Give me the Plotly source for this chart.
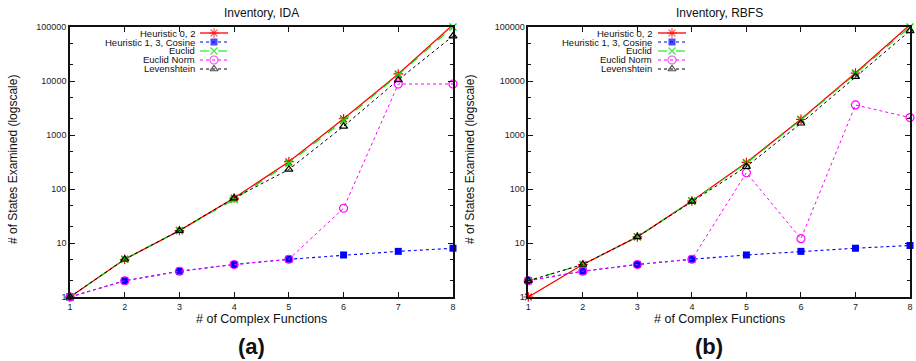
import plotly.graph_objects as go

# ---------------- data ----------------
funcs = [1, 2, 3, 4, 5, 6, 7, 8]

series_names = ["Heuristic 0, 2", "Heuristic 1, 3, Cosine", "Euclid", "Euclid Norm", "Levenshtein"]

ida_h02 = [1, 5, 17, 68, 320, 2000, 13500, 110000]
ida_h13 = [1, 2, 3, 4, 5, 6, 7, 8]
ida_euclid = [1, 5, 17, 64, 300, 1850, 13000, 100000]
ida_enorm = [1, 2, 3, 4, 5, 44, 8800, 8800]
ida_lev = [1, 5, 17, 68, 230, 1450, 10500, 68000]

rbfs_h02 = [1, 4, 13, 60, 310, 1950, 14000, 110000]
rbfs_h13 = [2, 3, 4, 5, 6, 7, 8, 9]
rbfs_euclid = [2, 4, 13, 60, 300, 1900, 13500, 100000]
rbfs_enorm = [2, 3, 4, 5, 200, 12, 3600, 2100]
rbfs_lev = [2, 4, 13, 59, 260, 1650, 12000, 85000]

y_tickvals = [1, 10, 100, 1000, 10000, 100000]
y_ticktext = ["1", "10", "100", "1000", "10000", "100000"]
x_tickvals = funcs

# ---------------- styles ----------------
W, H = 916, 361
FONT = "Liberation Sans, Arial, Helvetica, sans-serif"

styles = [
    dict(color="#ff0000", dash="solid", width=1.3, symbol="asterisk-open", size=8, mlw=1.2),
    dict(color="#0000ff", dash="dot", width=1.1, symbol="square", size=7, mlw=0),
    dict(color="#00e000", dash="dash", width=1.1, symbol="x-thin-open", size=7, mlw=1.4),
    dict(color="#ff00ff", dash="dot", width=1.0, symbol="circle-open", size=8, mlw=1.2),
    dict(color="#000000", dash="dot", width=1.0, symbol="triangle-up-open", size=7, mlw=1.2),
]

fig = go.Figure()

panels = [
    ("x", "y", [ida_h02, ida_h13, ida_euclid, ida_enorm, ida_lev]),
    ("x2", "y2", [rbfs_h02, rbfs_h13, rbfs_euclid, rbfs_enorm, rbfs_lev]),
]

for xa, ya, data in panels:
    for name, vals, st in zip(series_names, data, styles):
        fig.add_trace(go.Scatter(
            x=funcs, y=vals, name=name, mode="lines+markers",
            xaxis=xa, yaxis=ya, showlegend=False, cliponaxis=False,
            line=dict(color=st["color"], dash=st["dash"], width=st["width"]),
            marker=dict(symbol=st["symbol"], size=st["size"], color=st["color"],
                        line=dict(color=st["color"], width=st["mlw"])),
        ))

# ---------------- custom gnuplot-style legends (text right, sample on right) ----------------
legend_rows = [33, 42, 51, 60, 69]  # pixel rows
legend_panels = [(196, 200, 228), (653, 658, 686)]  # text right edge, line start, line end
annotations = []
for text_x, lx0, lx1 in legend_panels:
    for name, st, ry in zip(series_names, styles, legend_rows):
        annotations.append(dict(
            x=text_x / W, y=1 - ry / H, xref="paper", yref="paper",
            text=name, showarrow=False, xanchor="right", yanchor="middle",
            borderpad=0,
            font=dict(family=FONT, size=9.5, color="#111"),
        ))
        fig.add_trace(go.Scatter(
            x=[lx0, (lx0 + lx1) / 2, lx1], y=[H - ry] * 3,
            xaxis="x3", yaxis="y3", mode="lines+markers", showlegend=False,
            hoverinfo="skip", cliponaxis=False,
            line=dict(color=st["color"], dash=st["dash"], width=st["width"]),
            marker=dict(symbol=st["symbol"], size=[0, st["size"], 0], color=st["color"],
                        line=dict(color=st["color"], width=st["mlw"])),
        ))

# ---------------- text annotations ----------------
def add_text(px, py, text, size, bold=False, angle=0):
    annotations.append(dict(
        x=px / W, y=1 - py / H, xref="paper", yref="paper",
        text=f"<b>{text}</b>" if bold else text, showarrow=False,
        xanchor="center", yanchor="middle", textangle=angle,
        font=dict(family=FONT, size=size, color="#111"),
    ))

add_text(261, 12.5, "Inventory, IDA", 12)
add_text(719, 12.5, "Inventory, RBFS", 12)
add_text(261, 319, "# of Complex Functions", 12.5)
add_text(719, 319, "# of Complex Functions", 12.5)
add_text(13, 160, "# of States Examined (logscale)", 12, angle=-90)
add_text(470, 160, "# of States Examined (logscale)", 12, angle=-90)
add_text(251, 346, "(a)", 22, bold=True)
add_text(709, 346, "(b)", 22, bold=True)

# ---------------- axes ----------------
y_dom = [(H - 297) / H, (H - 27) / H]

def xaxis_cfg(domain, anchor):
    return dict(
        domain=domain, anchor=anchor, range=[1, 8],
        tickmode="array", tickvals=x_tickvals,
        ticks="inside", ticklen=5, tickwidth=1, tickcolor="#111",
        showline=True, linecolor="#111", linewidth=1.6, mirror="ticks",
        showgrid=False, zeroline=False,
        tickfont=dict(family=FONT, size=9, color="#222"),
    )

def yaxis_cfg(anchor):
    return dict(
        domain=y_dom, anchor=anchor, type="log", range=[0, 5],
        tickmode="array", tickvals=y_tickvals, ticktext=y_ticktext,
        ticks="inside", ticklen=5, tickwidth=1, tickcolor="#111",
        minor=dict(dtick="D2", ticks="inside", ticklen=3, tickcolor="#111", showgrid=False),
        showline=True, linecolor="#111", linewidth=1.6, mirror="ticks",
        showgrid=False, zeroline=False,
        tickfont=dict(family=FONT, size=9, color="#222"),
    )

fig.update_layout(
    width=W, height=H, margin=dict(l=0, r=0, t=0, b=0, autoexpand=False),
    paper_bgcolor="white", plot_bgcolor="rgba(0,0,0,0)",
    showlegend=False,
    xaxis=xaxis_cfg([70 / W, 453 / W], "y"),
    yaxis=yaxis_cfg("x"),
    xaxis2=xaxis_cfg([528.3 / W, 910 / W], "y2"),
    yaxis2=yaxis_cfg("x2"),
    xaxis3=dict(domain=[0, 1], range=[0, W], visible=False, anchor="y3", fixedrange=True),
    yaxis3=dict(domain=[0, 1], range=[0, H], visible=False, anchor="x3", fixedrange=True),
    annotations=annotations,
)

fig.write_html("out.html", config={"displayModeBar": False},
               post_script="document.body.style.margin='0';")
